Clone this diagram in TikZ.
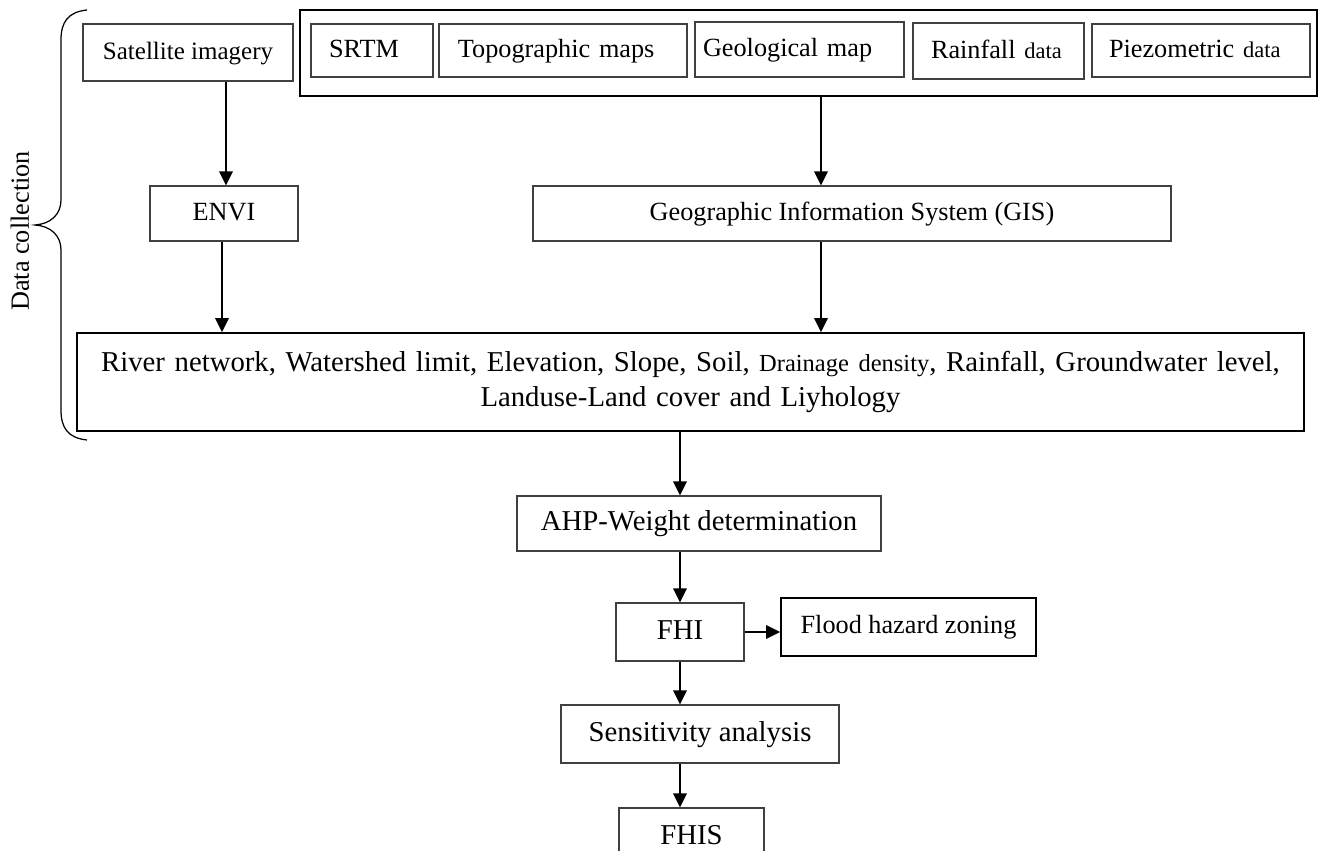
\documentclass[tikz,border=0pt]{standalone}
\usepackage{fontspec}
\setmainfont{Liberation Serif}
\usetikzlibrary{arrows.meta}

\tikzset{
  databox/.style={draw=black!75, line width=0.5pt, inner sep=0pt, align=center, text height=8.2pt, text depth=2.2pt},
  heavybox/.style={draw=black, line width=0.7pt, inner sep=0pt, align=center},
  bigfont/.style={font=\fontsize{11.5}{14}\selectfont},
  flow/.style={-{Triangle[length=5.6pt,width=5.4pt]}, line width=0.8pt}
}
\newcommand{\smalldata}[1]{{\fontsize{9}{14}\selectfont #1}}

\begin{document}
\begin{tikzpicture}[x=0.4pt, y=-0.4pt, font=\fontsize{10.5}{14}\selectfont]
        \clip (0,0) rectangle (1322,851);

        % sources
        \node[heavybox, minimum width=406.8pt, minimum height=34.4pt] (cont) at (808.5,53) {};
        \begin{scope}[every node/.style={databox, minimum height=21.2pt}]
            \node[minimum width=84pt, minimum height=22.8pt, font=\fontsize{10}{12}\selectfont] (sat) at (188,52.5) {Satellite imagery};
            \node[text width=34.4pt, inner xsep=7.2pt, align=left] (srtm) at (372,50.5) {SRTM};
            \node[text width=84pt, inner xsep=7.6pt, align=left] (topo) at (563,50.5) {Topographic maps};
            \node[text width=77.2pt, inner xsep=3.2pt, align=left, minimum height=22pt] (geo) at (799.5,49.5) {Geological map};
            \node[text width=54pt, inner xsep=7.2pt, align=left, minimum height=22.4pt] (rain) at (998.5,51) {Rainfall \smalldata{data}};
            \node[text width=73.6pt, inner xsep=6.8pt, align=left] (piezo) at (1201,50.5) {Piezometric \smalldata{data}};
        \end{scope}

        % processing
        \begin{scope}[every node/.style={databox, minimum height=22pt}]
            \node[minimum width=59.2pt] (envi) at (224,213.5) {ENVI};
            \node[minimum width=255.2pt] (gis) at (852,213.5) {Geographic Information System (GIS)};
            \node[minimum width=145.6pt, bigfont] (ahp) at (699,523.5) {AHP-Weight determination};
            \node[minimum width=51.2pt, minimum height=23.2pt, bigfont] (fhi) at (680,632) {FHI};
            \node[minimum width=111.2pt, minimum height=23.2pt, bigfont] (sens) at (700,734) {Sensitivity analysis};
            \node[minimum width=58pt, minimum height=23.2pt, bigfont] (fhis) at (691.5,837) {FHIS};
        \end{scope}
        \node[heavybox, bigfont, text width=488pt, minimum width=490.8pt, minimum height=39.2pt] (params) at (690.5,382)
            {River network, Watershed limit, Elevation, Slope, Soil, {\fontsize{9.8}{14}\selectfont Drainage density}, Rainfall, Groundwater level,\\
             Landuse-Land cover and Liyhology};
        \node[heavybox, text height=7.6pt, text depth=2.4pt, minimum width=102pt, minimum height=23.2pt] (flood) at (908.5,627) {Flood hazard zoning};

        % data collection brace
        \draw[line width=0.5pt] (87,10) .. controls (68,12) and (61,22) .. (61,40) -- (61,200)
            .. controls (61,215) and (50,224) .. (35,225) .. controls (50,226) and (61,235) .. (61,250)
            -- (61,410) .. controls (61,428) and (68,438) .. (87,440);
        \node[rotate=90, inner sep=0pt] (dclabel) at (20,231) {Data collection};

        \draw[flow] ([xshift=15.2pt]sat.south) -- ([xshift=15.2pt]sat.south |- envi.north);
        \draw[flow] ([xshift=-0.8pt]envi.south) -- ([xshift=-0.8pt]envi.south |- params.north);
        \draw[flow] ([xshift=5pt]cont.south) -- ([xshift=5pt]cont.south |- gis.north);
        \draw[flow] ([xshift=-12.4pt]gis.south) -- ([xshift=-12.4pt]gis.south |- params.north);
        \draw[flow] (params.south -| fhi) -- (ahp.north -| fhi);
        \draw[flow] (ahp.south -| fhi) -- (fhi.north);
        \draw[flow] (fhi.east) -- (fhi.east -| flood.west);
        \draw[flow] (fhi.south) -- (fhi.south |- sens.north);
        \draw[flow] (sens.south -| fhi) -- (fhis.north -| fhi);
    \end{tikzpicture}
\end{document}
